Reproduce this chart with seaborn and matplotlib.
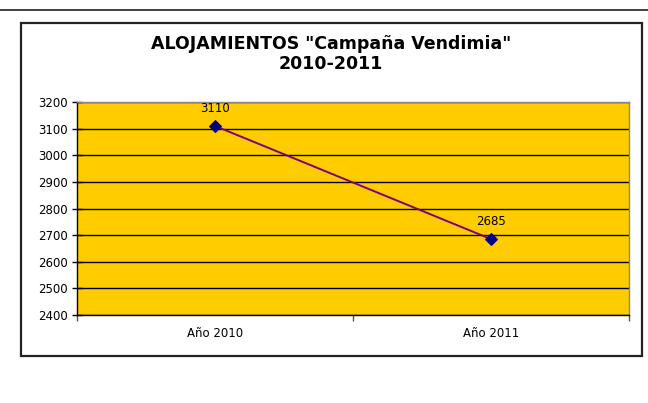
import matplotlib
matplotlib.use("Agg")
import matplotlib.pyplot as plt
import seaborn as sns
import pandas as pd
from matplotlib.lines import Line2D
from matplotlib.patches import Rectangle

# data
years = ["Año 2010", "Año 2011"]
alojamientos = [3110, 2685]
yticks = [2400, 2500, 2600, 2700, 2800, 2900, 3000, 3100, 3200]

df = pd.DataFrame({"anio": years, "alojamientos": alojamientos})
df["pos"] = [0, 1]

sns.set_style("white")
plt.rcParams["font.family"] = ["DejaVu Sans"]
plt.rcParams["text.color"] = "black"
plt.rcParams["xtick.color"] = "black"
plt.rcParams["ytick.color"] = "black"

fig = plt.figure(figsize=(6.48, 4.03), dpi=100)

# line across the top of the page
fig.add_artist(Line2D([0, 1], [1 - 9.5/403, 1 - 9.5/403], transform=fig.transFigure,
                      color="#333333", lw=1.3))
# chart area border
fig.add_artist(Rectangle((21/648, 1 - 356/403), (642 - 21)/648, (356 - 23)/403,
                         transform=fig.transFigure, fill=False, ec="#222222", lw=1.6))

ax = fig.add_axes([77/648, 1 - 315/403, (629 - 77)/648, (315 - 102)/403])
ax.set_facecolor("#FFCC00")

sns.lineplot(data=df, x="pos", y="alojamientos", ax=ax, color="#800080", lw=1.4,
             marker="D", markersize=6, markerfacecolor="#000080",
             markeredgecolor="#000080")

for x, v in zip(df["pos"], df["alojamientos"]):
    ax.annotate(str(v), (x, v), xytext=(0, 8), textcoords="offset points",
                ha="center", va="bottom", fontsize=8.5, color="black")

ax.set_xlim(-0.5, 1.5)
ax.set_ylim(2400, 3200)
ax.set_yticks(yticks)
ax.yaxis.grid(True, color="black", lw=1)
ax.set_axisbelow(True)

# category labels centred, tick marks between categories
ax.set_xticks([-0.5, 0.5, 1.5])
ax.set_xticklabels([])
for x, lab in zip(df["pos"], df["anio"]):
    ax.text(x, -0.085, lab, transform=ax.get_xaxis_transform(), ha="center",
            va="center", fontsize=8.5, color="black")
ax.tick_params(axis="x", direction="out", length=4, width=1, color="#555555", bottom=True)
ax.tick_params(axis="y", direction="inout", length=7, width=1, color="black",
               left=True, labelsize=8.5, labelcolor="black", pad=3)

for s in ["top", "right"]:
    ax.spines[s].set_color("#888888")
    ax.spines[s].set_linewidth(1)
for s in ["left", "bottom"]:
    ax.spines[s].set_color("black")
    ax.spines[s].set_linewidth(1)

ax.set_xlabel("")
ax.set_ylabel("")

fig.text(331/648, 1 - 44/403, 'ALOJAMIENTOS "Campaña Vendimia"', ha="center", va="center",
         fontsize=12.5, fontweight="bold", color="black")
fig.text(331/648, 1 - 64/403, "2010-2011", ha="center", va="center",
         fontsize=12.5, fontweight="bold", color="black")

fig.savefig("out.png", dpi=100)
